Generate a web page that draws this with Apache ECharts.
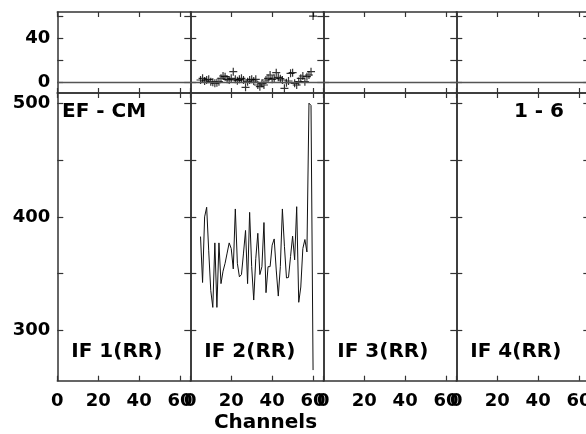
<!DOCTYPE html>
<html><head><meta charset="utf-8">
<script src="https://cdn.jsdelivr.net/npm/echarts@6/dist/echarts.min.js"></script>
<style>html,body{margin:0;padding:0;background:#fff}#c{width:586px;height:434px}</style>
</head><body><div id="c"></div>
<script>
// ---- data ----
const channels = [5,6,7,8,9,10,11,12,13,14,15,16,17,18,19,20,21,22,23,24,25,26,27,28,29,30,
  31,32,33,34,35,36,37,38,39,40,41,42,43,44,45,46,47,48,49,50,51,52,53,54,55,56,57,58,59,60];
const if2Amp = [382.6,342,400,408.5,370,335,320,377,320,377,341,352,359,368,377,372,354,407,359,347,
  349,368,388,341,404,356,326.5,363,385.5,349,356,395,333,356,356,375,380.5,353,330,356,
  407,374,346,346.5,365,383,362,409,324.5,338,372,380,369,500.5,498.5,264.6];
const if2Diff = [2.4,3.9,1.5,2.4,3,0.9,0.3,-0.6,0,0.9,4,6,5.4,3,2.4,3.9,9.9,3,1.8,3,
  3.9,2.4,-4.2,0.9,2.4,3,1.5,3,-2.1,-3.6,-0.6,-2.1,2.4,3.9,6.9,3,4,9,4.8,3.6,
  2.4,-5.1,0,1.5,8.4,9,-0.6,-2.1,1,3.9,6,0.9,5.4,6.9,9.9,60];
const panelLabels = ['IF 1(RR)','IF 2(RR)','IF 3(RR)','IF 4(RR)'];
const xTicks = [0,20,40,60];
const topTicks = [0,20,40,60];
const topTickLabels = [0,40];
const ampTicks = [300,350,400,450,500];
const ampTickLabels = [300,400,500];
const sourceLabel = 'EF - CM';
const baselineLabel = '1 - 6';
const xTitle = 'Channels';

// ---- layout ----
const FONT = '"DejaVu Sans", sans-serif';
const AX = '#333';
const left0 = 57.3, colW = 133;
const rows = [{top:12, h:81, min:-9.3, max:63.7, ticks:topTicks, labels:topTickLabels},
              {top:93, h:287.7, min:255.2, max:509.5, ticks:ampTicks, labels:ampTickLabels}];
const grid = [], xAxis = [], yAxis = [], series = [], graphic = [];
const lbl = {fontSize:18, fontWeight:'bold', fontFamily:FONT, color:'#000'};
rows.forEach((r, ri) => {
  for (let i = 0; i < 4; i++) {
    const g = grid.length;
    grid.push({left:left0 + i*colW, top:r.top, width:colW, height:r.h, containLabel:false, outerBoundsMode:'none'});
    ['bottom','top'].forEach(pos => xAxis.push({
      gridIndex:g, type:'value', min:0, max:65, position:pos,
      axisLine:{show:true, onZero:false, lineStyle:{color:AX, width:1.5}},
      axisTick:{show:true, inside:true, length:5, customValues:xTicks, lineStyle:{color:AX, width:1.2}},
      axisLabel:{show:ri===1 && pos==='bottom', customValues:xTicks, margin:12, ...lbl},
      splitLine:{show:false}
    }));
    ['left','right'].forEach(pos => yAxis.push({
      gridIndex:g, type:'value', min:r.min, max:r.max, position:pos,
      axisLine:{show:true, onZero:false, lineStyle:{color:AX, width:1.5}},
      axisTick:{show:true, inside:true, length:6, customValues:r.ticks, lineStyle:{color:AX, width:1.2}},
      axisLabel:{show:i===0 && pos==='left', customValues:r.labels, margin:7, ...lbl},
      splitLine:{show:false}
    }));
    if (ri === 0) {
      series.push({type:'line', xAxisIndex:2*g, yAxisIndex:2*g, data:[], silent:true,
        markLine:{silent:true, symbol:['none','none'], label:{show:false},
          lineStyle:{color:'#555', width:1.3, type:'solid'}, data:[{yAxis:0}]}});
      if (i === 1) {
        series.push({type:'scatter', xAxisIndex:2*g, yAxisIndex:2*g,
          data:channels.map((c,k)=>[c, if2Diff[k]]),
          symbol:'path://M3.4,0H4.6V8H3.4ZM0,3.4H8V4.6H0Z', symbolSize:8,
          itemStyle:{color:'#000'}});
      }
    } else {
      if (i === 1) {
        series.push({type:'line', xAxisIndex:2*g, yAxisIndex:2*g,
          data:channels.map((c,k)=>[c, if2Amp[k]]), showSymbol:false, symbol:'none',
          lineStyle:{color:'#111', width:1}});
      }
      graphic.push({type:'text', x:left0 + i*colW + 14, y:352,
        style:{text:panelLabels[i], font:'bold 20px ' + FONT, fill:'#000', align:'left', verticalAlign:'middle'}});
    }
  }
});
graphic.push({type:'text', x:62, y:112, style:{text:sourceLabel, font:'bold 20px ' + FONT, fill:'#000', align:'left', verticalAlign:'middle'}});
graphic.push({type:'text', x:564, y:112, style:{text:baselineLabel, font:'bold 20px ' + FONT, fill:'#000', align:'right', verticalAlign:'middle'}});
graphic.push({type:'text', x:265.5, y:423, style:{text:xTitle, font:'bold 20px ' + FONT, fill:'#000', align:'center', verticalAlign:'middle'}});

const chart = echarts.init(document.getElementById('c'), null, {renderer:'canvas'});
chart.setOption({animation:false, backgroundColor:'#fff', grid, xAxis, yAxis, series, graphic});
</script></body></html>
